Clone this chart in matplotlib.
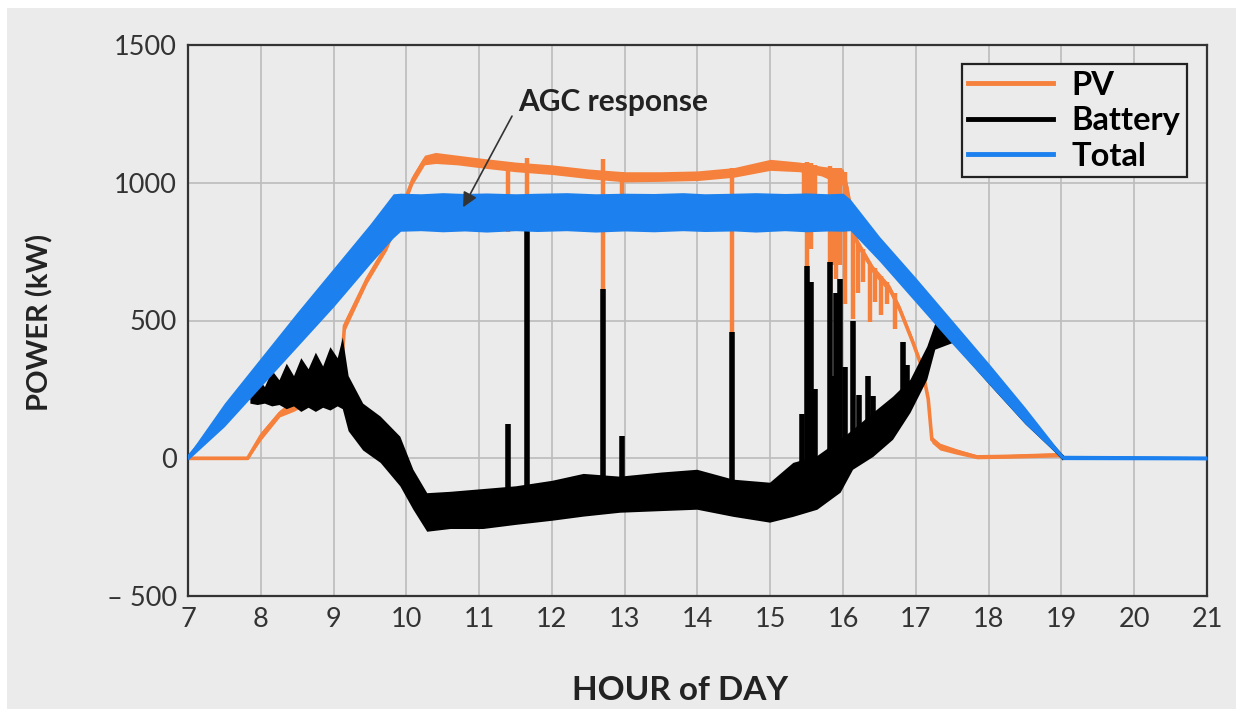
import numpy as np
import matplotlib.pyplot as plt
from matplotlib.lines import Line2D
from matplotlib.patches import Rectangle

plt.rcParams['font.family'] = ['Lato', 'DejaVu Sans']

# Total output: band (low/high)
tot_h = [7.0, 7.5, 8.0, 8.5, 9.0, 9.5, 9.82, 9.92, 10.2, 10.5, 10.8, 11.1, 11.5, 11.8,
         12.2, 12.6, 13.0, 13.4, 13.8, 14.1, 14.5, 14.8, 15.2, 15.5, 15.8, 16.0,
         16.1, 16.5, 17.0, 17.5, 18.0, 18.5, 19.02, 21.0]
tot_hi = [12, 200, 365, 530, 690, 850, 960, 962, 960, 964, 961, 963, 960, 962,
          964, 960, 962, 961, 964, 960, 962, 964, 961, 963, 960, 962,
          940, 805, 655, 500, 345, 185, 10, 6]
tot_lo = [-6, 115, 260, 405, 550, 705, 800, 824, 826, 822, 825, 821, 826, 823,
          826, 821, 825, 822, 826, 823, 825, 821, 826, 822, 825, 824,
          826, 715, 565, 415, 270, 125, -5, -6]

# PV output
pv_h = [7.0, 7.82, 8.0, 8.26, 8.45, 8.63, 8.8, 8.95, 9.1, 9.15, 9.3, 9.46, 9.73, 9.9,
        10.09, 10.25, 10.4, 10.7, 11.0, 11.5, 12.0, 12.5, 13.0, 13.5, 14.0, 14.5,
        15.0, 15.4, 15.7, 16.0, 16.05, 16.19, 16.41, 16.64, 16.78, 16.96, 17.08,
        17.17, 17.22, 17.33, 17.55, 17.84, 18.29, 18.98, 19.02]
pv_lo = [-5, -5, 65, 150, 170, 195, 215, 245, 285, 460, 545, 635, 755, 865,
         995, 1065, 1070, 1065, 1055, 1040, 1030, 1015, 1003, 1005, 1008, 1020,
         1045, 1040, 1025, 990, 960, 770, 670, 600, 525, 405, 318,
         200, 55, 30, 15, -2, 0, 5, 0]
pv_hi = [5, 5, 95, 175, 215, 225, 260, 275, 320, 500, 580, 665, 785, 895,
         1030, 1100, 1110, 1100, 1090, 1075, 1065, 1050, 1040, 1040, 1043, 1055,
         1085, 1075, 1060, 1050, 1010, 800, 700, 630, 555, 435, 348,
         230, 80, 55, 35, 12, 14, 20, 8]
pv_dip_h = [11.40, 11.66, 12.70, 12.96, 14.47, 15.47, 15.50, 15.56, 15.62, 15.82, 15.87,
            15.90, 15.96, 16.03, 16.13, 16.20, 16.28, 16.37, 16.44, 16.52, 16.60, 16.72]
pv_dip_lo = [820, 830, 614, 950, 457, 820, 697, 760, 900, 603, 700,
             650, 700, 560, 505, 600, 640, 494, 566, 520, 560, 470]
pv_dip_hi = [1075, 1090, 1085, 1040, 1055, 1070, 1075, 1070, 1065, 1060, 1055,
             1055, 1055, 1040, 880, 780, 760, 700, 690, 660, 640, 600]

# Battery output
bat_h = [7.85, 7.95, 8.05, 8.15, 8.25, 8.35, 8.45, 8.55, 8.65, 8.75, 8.85, 8.95,
         9.05, 9.12, 9.2, 9.4, 9.64, 9.91, 10.09,
         10.28, 10.6, 11.05, 11.5, 12.0, 12.43, 12.93, 13.5, 13.99, 14.49, 14.99,
         15.31, 15.64, 15.96, 16.13, 16.41, 16.68, 16.92, 17.15, 17.26, 17.5,
         18.0, 18.5, 19.02]
bat_lo = [200, 195, 200, 190, 195, 180, 190, 170, 185, 170, 185, 175,
          190, 180, 100, 30, -15, -100, -185,
          -265, -255, -255, -240, -225, -210, -196, -190, -185, -211, -232,
          -211, -185, -123, -40, 7, 69, 167, 287, 396, 420,
          270, 125, -5]
bat_hi = [245, 295, 260, 320, 285, 345, 300, 365, 325, 385, 335, 405,
          365, 440, 300, 200, 153, 80, -40,
          -125, -120, -110, -100, -80, -55, -65, -50, -40, -76, -87,
          -15, 10, 70, 105, 167, 225, 287, 407, 490, 470,
          320, 170, 10]
bat_spk_h = [11.40, 11.66, 12.70, 12.96, 14.47, 15.43, 15.50, 15.56, 15.62, 15.82,
             15.87, 15.90, 15.96, 16.03, 16.13, 16.22, 16.34, 16.41, 16.82, 16.88]
bat_spk_lo = [-150, -150, -140, -130, -150, -100, -100, -80, -60, -20,
              -10, 0, 20, 30, 40, 60, 90, 100, 200, 220]
bat_spk_hi = [123, 850, 614, 80, 457, 160, 697, 640, 250, 712,
              300, 600, 650, 330, 497, 230, 298, 225, 421, 340]

x_ticks = list(range(7, 22))
y_ticks = [-500, 0, 500, 1000, 1500]
y_tick_labels = ['\u2013 500', '0', '500', '1000', '1500']

c_pv = '#f5813d'
c_bat = '#000000'
c_tot = '#1c80ee'
bg = '#ebebeb'

fig = plt.figure(figsize=(12.43, 7.17), dpi=100, facecolor='white')
fig.patches.append(Rectangle((7 / 1243, 8 / 717), 1229 / 1243, 701 / 717,
                             transform=fig.transFigure, facecolor=bg, edgecolor='none', zorder=-10))
ax = fig.add_axes([188 / 1243, 121 / 717, 1019 / 1243, 551 / 717])
ax.set_facecolor(bg)

# PV
ax.fill_between(pv_h, pv_lo, pv_hi, color=c_pv, lw=0, zorder=2)
ax.plot(pv_h, [(a + b) / 2 for a, b in zip(pv_lo, pv_hi)], color=c_pv, lw=2.6, zorder=2)
ax.vlines(pv_dip_h, pv_dip_lo, pv_dip_hi, color=c_pv, lw=3.2, zorder=2)

# Battery
ax.fill_between(bat_h, bat_lo, bat_hi, color=c_bat, lw=0, zorder=3)
ax.plot(bat_h, [(a + b) / 2 for a, b in zip(bat_lo, bat_hi)], color=c_bat, lw=3, zorder=3)
ax.vlines(bat_spk_h, bat_spk_lo, bat_spk_hi, color=c_bat, lw=4, zorder=3)

# Total
ax.fill_between(tot_h, tot_lo, tot_hi, color=c_tot, lw=0, zorder=4)
ax.plot(tot_h, [(a + b) / 2 for a, b in zip(tot_lo, tot_hi)], color=c_tot, lw=2.6, zorder=4)

ax.set_xlim(7, 21)
ax.set_ylim(-500, 1500)
ax.set_xticks(x_ticks)
ax.set_yticks(y_ticks)
ax.set_yticklabels(y_tick_labels)
ax.tick_params(length=0, labelsize=19.5, colors='#333333', pad=8)
ax.grid(True, color='#bcbcbc', lw=1.2)
ax.set_axisbelow(True)
for s in ax.spines.values():
    s.set_color('#333333')
    s.set_linewidth(1.6)

ax.annotate('AGC response', xy=(10.78, 911), xytext=(11.53, 1260),
            fontsize=21.5, fontweight='bold', color='#222222', va='baseline',
            arrowprops=dict(arrowstyle='-|>', color='#333333', lw=1.2,
                            mutation_scale=22, shrinkA=0, shrinkB=0,
                            relpos=(-0.03, 0.0)),
            zorder=6)

handles = [Line2D([], [], color=c_pv, lw=3.5),
           Line2D([], [], color=c_bat, lw=3.5),
           Line2D([], [], color=c_tot, lw=3.5)]
leg = ax.legend(handles, ['PV', 'Battery', 'Total'], loc='upper right',
                bbox_to_anchor=(0.980, 0.9655), borderaxespad=0, fancybox=False,
                framealpha=1, facecolor=bg, edgecolor='#222222',
                prop=dict(size=23.5, weight='bold'), handlelength=2.6,
                handletextpad=0.55, labelspacing=0.2, borderpad=0.2)
leg.get_frame().set_linewidth(1.6)
leg.set_zorder(7)

fig.text(40 / 1243, 1 - 322 / 717, 'POWER (kW)', rotation=90, ha='center', va='center',
         fontsize=21, fontweight='bold', color='#222222')
fig.text(680 / 1243, 1 - 690 / 717, 'HOUR of DAY', ha='center', va='center',
         fontsize=24, fontweight='bold', color='#222222')

fig.savefig('out.png', dpi=100, facecolor='white')
